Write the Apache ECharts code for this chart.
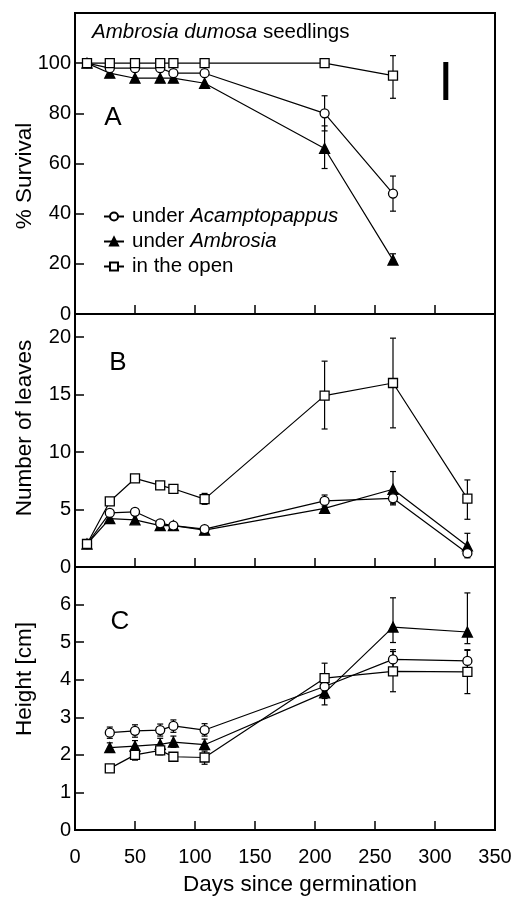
<!DOCTYPE html>
<html>
<head>
<meta charset="utf-8">
<script src="https://cdn.jsdelivr.net/npm/echarts@6/dist/echarts.min.js"></script>
<style>
  html, body { margin: 0; padding: 0; background: #fff; }
  #chart { width: 526px; height: 897px; }
</style>
</head>
<body>
<div id="chart"></div>
<script>
// days since germination for each panel
var daysA = [10, 29, 50, 71, 82, 108, 208, 265];
var daysB = [10, 29, 50, 71, 82, 108, 208, 265, 327];
var daysC = [29, 50, 71, 82, 108, 208, 265, 327];

// A: % survival
var survAcamp = [100, 98, 98, 98, 96, 96, 80, 48];
var survAmbro = [100, 96, 94, 94, 94, 92, 66, 21.5];
var survOpen = [100, 100, 100, 100, 100, 100, 100, 95];
var errSurvAcamp = [[208, 73, 87], [265, 41, 55]];
var errSurvAmbro = [[208, 58, 75], [265, 20, 24]];
var errSurvOpen = [[265, 86, 103]];
var lsdBar = [[309, 85.3], [309, 100.5]];

// B: number of leaves
var leavesAcamp = [2.0, 4.7, 4.8, 3.8, 3.6, 3.3, 5.75, 5.97, 1.2];
var leavesAmbro = [2.0, 4.2, 4.1, 3.6, 3.6, 3.2, 5.1, 6.76, 1.83];
var leavesOpen = [2.0, 5.7, 7.7, 7.1, 6.8, 5.9, 14.9, 16.0, 5.95];
var errLeavesAcamp = [[208, 5.3, 6.26], [265, 5.4, 6.5], [327, 0.9, 1.5]];
var errLeavesAmbro = [[208, 4.67, 5.5], [265, 5.5, 8.3], [327, 0.8, 2.93]];
var errLeavesOpen = [[50, 7.4, 8.0], [71, 6.8, 7.4], [82, 6.5, 7.1], [108, 5.45, 6.4],
  [208, 12.0, 17.9], [265, 12.1, 19.9], [327, 4.15, 7.57]];

// C: height [cm]
var heightAcamp = [2.59, 2.64, 2.66, 2.77, 2.66, 3.82, 4.54, 4.5];
var heightAmbro = [2.19, 2.23, 2.28, 2.34, 2.27, 3.65, 5.4, 5.27];
var heightOpen = [1.64, 2.0, 2.12, 1.95, 1.93, 4.04, 4.22, 4.21];
var errHeightAcamp = [[29, 2.44, 2.74], [50, 2.47, 2.8], [71, 2.5, 2.82], [82, 2.6, 2.93],
  [108, 2.5, 2.83], [208, 3.5, 4.1], [265, 4.25, 4.8], [327, 4.2, 4.8]];
var errHeightAmbro = [[29, 2.08, 2.32], [50, 2.1, 2.38], [71, 2.14, 2.44], [82, 2.2, 2.5],
  [108, 2.14, 2.42], [208, 3.33, 3.9], [265, 4.99, 6.18], [327, 4.96, 6.31]];
var errHeightOpen = [[29, 1.55, 1.72], [50, 1.86, 2.15], [71, 2.0, 2.25], [82, 1.84, 2.06],
  [108, 1.75, 2.1], [208, 3.7, 4.44], [265, 3.68, 4.75], [327, 3.63, 4.78]];

var FONT = "'Liberation Sans', Arial, sans-serif";
var names = { acamp: "acamp", ambro: "ambro", open: "open" };

function pairs(xs, ys) {
  return xs.map(function (x, i) { return [x, ys[i]]; });
}

function errRender(params, api) {
  var x = api.value(0);
  var lo = api.coord([x, api.value(1)]);
  var hi = api.coord([x, api.value(2)]);
  var w = 3;
  var st = { stroke: "#000", lineWidth: 1.2 };
  return {
    type: "group",
    children: [
      { type: "line", shape: { x1: lo[0], y1: lo[1], x2: hi[0], y2: hi[1] }, style: st },
      { type: "line", shape: { x1: lo[0] - w, y1: lo[1], x2: lo[0] + w, y2: lo[1] }, style: st },
      { type: "line", shape: { x1: hi[0] - w, y1: hi[1], x2: hi[0] + w, y2: hi[1] }, style: st }
    ]
  };
}

function errSeries(idx, data) {
  return {
    type: "custom",
    xAxisIndex: idx,
    yAxisIndex: idx,
    renderItem: errRender,
    encode: { x: 0, y: [1, 2] },
    data: data,
    z: 1,
    silent: true
  };
}

var symbols = {
  acamp: { symbol: "circle", symbolSize: 9, color: "#fff" },
  ambro: { symbol: "triangle", symbolSize: 10, color: "#000" },
  open: { symbol: "rect", symbolSize: 9, color: "#fff" }
};

function lineSeries(idx, key, xs, ys) {
  var s = symbols[key];
  return {
    name: names[key],
    type: "line",
    xAxisIndex: idx,
    yAxisIndex: idx,
    data: pairs(xs, ys),
    symbol: s.symbol,
    symbolSize: s.symbolSize,
    showAllSymbol: true,
    lineStyle: { color: "#000", width: 1.2 },
    itemStyle: { color: s.color, borderColor: "#000", borderWidth: 1.3 },
    z: key === "open" ? 4 : (key === "acamp" ? 3 : 2),
    animation: false
  };
}

function xAx(idx, showLabel) {
  return {
    type: "value",
    gridIndex: idx,
    min: 0,
    max: 350,
    interval: 50,
    axisLine: { lineStyle: { color: "#000", width: 2 } },
    axisTick: { inside: true, length: 9, lineStyle: { color: "#000", width: 1.5 } },
    axisLabel: {
      show: showLabel,
      color: "#000",
      fontFamily: FONT,
      fontSize: 20,
      margin: 17
    },
    splitLine: { show: false }
  };
}

function yAx(idx, max, interval, top) {
  return {
    type: "value",
    gridIndex: idx,
    min: 0,
    max: max,
    interval: interval,
    axisLine: { lineStyle: { color: "#000", width: 2 } },
    axisTick: { inside: true, length: 9, lineStyle: { color: "#000", width: 1.5 } },
    axisLabel: {
      color: "#000",
      fontFamily: FONT,
      fontSize: 20,
      margin: 4,
      formatter: function (v) { return v > top ? "" : String(v); }
    },
    splitLine: { show: false }
  };
}

function label(text, x, y, size, rot) {
  return {
    type: "text",
    x: x,
    y: y,
    rotation: rot || 0,
    style: {
      text: text,
      fontFamily: FONT,
      fontSize: size,
      fill: "#000",
      align: "center",
      verticalAlign: "middle"
    }
  };
}

var legendText = {
  acamp: "under {i|Acamptopappus}",
  ambro: "under {i|Ambrosia}",
  open: "in the open"
};

var chart = echarts.init(document.getElementById("chart"));

var option = {
  animation: false,
  backgroundColor: "#fff",
  title: {
    text: "{i|Ambrosia dumosa} seedlings",
    left: 92,
    top: 22,
    padding: 0,
    textStyle: {
      color: "#000",
      fontFamily: FONT,
      fontSize: 20.5,
      fontWeight: "normal",
      rich: { i: { fontStyle: "italic", fontFamily: FONT, fontSize: 20.5, color: "#000" } }
    }
  },
  legend: {
    orient: "vertical",
    left: 103,
    top: 206,
    padding: 0,
    itemWidth: 20,
    itemHeight: 10,
    itemGap: 4,
    data: ["acamp", "ambro", "open"],
    selectedMode: false,
    formatter: function (n) { return legendText[n]; },
    textStyle: {
      color: "#000",
      fontFamily: FONT,
      fontSize: 20.5,
      padding: [0, 0, 0, 3],
      rich: { i: { fontStyle: "italic", fontFamily: FONT, fontSize: 20.5, color: "#000" } }
    }
  },
  grid: [
    { left: 75, right: 31, top: 13, height: 301, show: true, borderColor: "#000", borderWidth: 2 },
    { left: 75, right: 31, top: 314, height: 253, show: true, borderColor: "#000", borderWidth: 2 },
    { left: 75, right: 31, top: 567, height: 263, show: true, borderColor: "#000", borderWidth: 2 }
  ],
  xAxis: [xAx(0, false), xAx(1, false), xAx(2, true)],
  yAxis: [yAx(0, 120, 20, 100), yAx(1, 22, 5, 20), yAx(2, 7, 1, 6)],
  graphic: [
    label("% Survival", 25, 176, 22.5, Math.PI / 2),
    label("Number of leaves", 25, 428, 22.5, Math.PI / 2),
    label("Height [cm]", 25, 679, 22.5, Math.PI / 2),
    label("Days since germination", 300, 885, 22.5, 0),
    label("A", 113, 118, 26, 0),
    label("B", 118, 363, 26, 0),
    label("C", 120, 622, 26, 0)
  ],
  series: [
    errSeries(0, errSurvAcamp),
    errSeries(0, errSurvAmbro),
    errSeries(0, errSurvOpen),
    lineSeries(0, "acamp", daysA, survAcamp),
    lineSeries(0, "ambro", daysA, survAmbro),
    lineSeries(0, "open", daysA, survOpen),
    {
      type: "line",
      xAxisIndex: 0,
      yAxisIndex: 0,
      data: lsdBar,
      symbol: "none",
      lineStyle: { color: "#000", width: 5, cap: "butt" },
      silent: true
    },
    errSeries(1, errLeavesAcamp),
    errSeries(1, errLeavesAmbro),
    errSeries(1, errLeavesOpen),
    lineSeries(1, "acamp", daysB, leavesAcamp),
    lineSeries(1, "ambro", daysB, leavesAmbro),
    lineSeries(1, "open", daysB, leavesOpen),
    errSeries(2, errHeightAcamp),
    errSeries(2, errHeightAmbro),
    errSeries(2, errHeightOpen),
    lineSeries(2, "acamp", daysC, heightAcamp),
    lineSeries(2, "ambro", daysC, heightAmbro),
    lineSeries(2, "open", daysC, heightOpen)
  ]
};

chart.setOption(option);
</script>
</body>
</html>
